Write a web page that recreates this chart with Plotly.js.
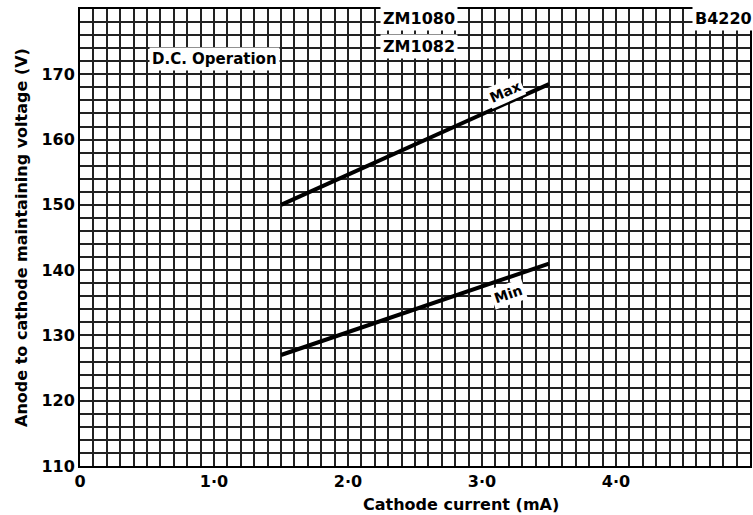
<!DOCTYPE html>
<html><head><meta charset="utf-8">
<script src="https://cdn.plot.ly/plotly-3.0.1.min.js"></script>
<style>body{margin:0;background:#fff}#c{width:753px;height:515px}</style>
</head><body><div id="c"></div>
<script>
const maxX = [1.5, 3.5];
const maxY = [150, 168.5];
const minX = [1.5, 3.5];
const minY = [127, 141];
const xLabelVals = [0, 1, 2, 3, 4];
const xLabelText = ['0', '1·0', '2·0', '3·0', '4·0'];
const yLabelVals = [110, 120, 130, 140, 150, 160, 170];
const yLabelText = ['110', '120', '130', '140', '150', '160', '170'];

// grid positions (graph-paper spacing) with labels only at the labelled values
const xGrid = [], xGridText = [];
for (let i = 0; i <= 50; i++) {
  const v = i / 10; xGrid.push(v);
  const k = xLabelVals.indexOf(v); xGridText.push(k >= 0 ? xLabelText[k] : '');
}
const yGrid = [], yGridText = [];
for (let v = 110; v <= 180; v += 2) {
  yGrid.push(v);
  const k = yLabelVals.indexOf(v); yGridText.push(k >= 0 ? yLabelText[k] : '');
}

const F = '"DejaVu Sans", sans-serif';
const traces = [
  {x: maxX, y: maxY, mode: 'lines', line: {color: '#000', width: 4}, name: 'Max'},
  {x: minX, y: minY, mode: 'lines', line: {color: '#000', width: 4}, name: 'Min'}
];
const box = (text, x, y, extra) => Object.assign({
  text: '<b>' + text + '</b>', x: x, y: y, xref: 'x', yref: 'y', showarrow: false,
  bgcolor: '#fff', font: {family: F, size: 15, color: '#000'}, borderpad: 2
}, extra || {});
const layout = {
  width: 753, height: 515,
  margin: {l: 80, r: 3, t: 9, b: 49},
  paper_bgcolor: '#fff', plot_bgcolor: '#fff',
  showlegend: false,
  xaxis: {
    range: [0, 5], tickmode: 'array', tickvals: xGrid, ticktext: xGridText,
    showgrid: true, gridcolor: '#222', gridwidth: 2,
    showline: true, linecolor: '#000', linewidth: 2, mirror: true,
    zeroline: false, ticks: '',
    tickfont: {family: F, size: 16, color: '#000', weight: 'bold'}
  },
  yaxis: {
    range: [110, 180], tickmode: 'array', tickvals: yGrid, ticktext: yGridText,
    showgrid: true, gridcolor: '#222', gridwidth: 2,
    showline: true, linecolor: '#000', linewidth: 2, mirror: true,
    zeroline: false, ticks: '',
    tickfont: {family: F, size: 16, color: '#000', weight: 'bold'},
    title: {text: '<b>Anode to cathode maintaining voltage (V)</b>', font: {family: F, size: 16, color: '#000'}, standoff: 10}
  },
  annotations: [
    {text: '<b>Cathode current (mA)</b>', xref: 'paper', yref: 'paper', x: 0.569, y: -0.085,
     yanchor: 'middle', showarrow: false, font: {family: F, size: 16, color: '#000'}},
    box('D.C. Operation', 1.0, 172.3),
    box('ZM1080', 2.53, 178.5, {font: {family: F, size: 16, color: '#000'}}),
    box('ZM1082', 2.53, 174.2, {font: {family: F, size: 16, color: '#000'}}),
    box('B4220', 4.8, 178.5, {font: {family: F, size: 16, color: '#000'}}),
    box('Max', 3.17, 167.3, {textangle: -24, font: {family: F, size: 14, color: '#000'}}),
    box('Min', 3.2, 136.3, {textangle: -19, font: {family: F, size: 14, color: '#000'}})
  ]
};
Plotly.newPlot('c', traces, layout, {displayModeBar: false, staticPlot: true});
</script></body></html>
